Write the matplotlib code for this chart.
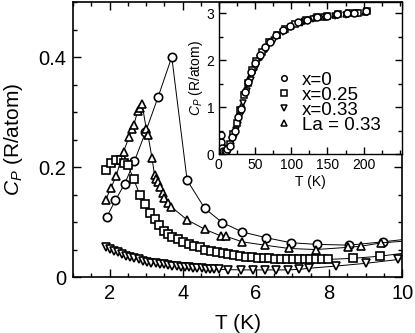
import numpy as np
import matplotlib
matplotlib.use("Agg")
import matplotlib.pyplot as plt
from matplotlib.ticker import MultipleLocator

plt.rcParams['font.family'] = ['Liberation Sans', 'DejaVu Sans']
plt.rcParams['mathtext.fontset'] = 'custom'
plt.rcParams['mathtext.rm'] = 'Liberation Sans'
plt.rcParams['mathtext.it'] = 'Liberation Sans:italic'

# main panel, low T (last point of each list is where the line ends, no marker)
T_x0 = [1.93, 2.16, 2.41, 2.68, 2.98, 3.33, 3.70, 4.12, 4.60, 5.08, 5.63, 6.28, 6.96, 7.67, 8.56, 9.47, 10.0]
C_x0 = [0.110, 0.140, 0.169, 0.211, 0.263, 0.328, 0.400, 0.176, 0.125, 0.099, 0.082, 0.0715, 0.0624, 0.0594, 0.058, 0.064, 0.068]

T_x25 = [1.89, 2.05, 2.18, 2.32, 2.38, 2.50, 2.66, 2.82, 2.96, 3.11, 3.23, 3.35, 3.48, 3.59, 3.71, 3.87,
         4.00, 4.16, 4.30, 4.46, 4.61, 4.77, 4.93, 5.09, 5.25, 5.41, 5.57, 5.73, 5.89, 6.05, 6.21, 6.37,
         6.53, 6.69, 6.85, 7.01, 7.17, 7.33, 7.49, 7.65, 7.81, 7.96, 8.65, 9.40, 10.0]
C_x25 = [0.195, 0.207, 0.212, 0.213, 0.207, 0.203, 0.178, 0.150, 0.132, 0.116, 0.105, 0.0945, 0.084, 0.078, 0.072, 0.0685,
         0.064, 0.060, 0.056, 0.054, 0.050, 0.048, 0.046, 0.044, 0.042, 0.040, 0.038, 0.037, 0.036, 0.035, 0.034, 0.034,
         0.033, 0.033, 0.033, 0.032, 0.032, 0.032, 0.032, 0.032, 0.032, 0.032, 0.034, 0.038, 0.043]

T_x33 = [1.89, 2.00, 2.11, 2.23, 2.34, 2.46, 2.57, 2.68, 2.80, 2.91, 3.03, 3.14, 3.26, 3.37, 3.48, 3.60,
         3.71, 3.83, 3.94, 4.06, 4.17, 4.29, 4.40, 4.52, 4.63, 4.75, 4.86, 5.00, 5.25, 5.60, 5.92, 6.24,
         6.55, 6.87, 7.19, 7.46, 8.19, 9.01, 9.90, 10.0]
C_x33 = [0.054, 0.051, 0.048, 0.045, 0.042, 0.039, 0.037, 0.034, 0.032, 0.030, 0.028, 0.026, 0.025, 0.024, 0.023, 0.022,
         0.021, 0.020, 0.019, 0.018, 0.0175, 0.017, 0.0165, 0.016, 0.0155, 0.015, 0.0145, 0.014, 0.0135, 0.013, 0.013, 0.013,
         0.013, 0.013, 0.014, 0.016, 0.020, 0.025, 0.032, 0.033]

T_la = [1.89, 2.03, 2.18, 2.38, 2.53, 2.62, 2.66, 2.77, 2.84, 2.89, 3.00, 3.05, 3.16, 3.23, 3.28, 3.33,
        3.37, 3.45, 3.50, 3.60, 3.68, 4.12, 4.60, 5.05, 5.17, 5.63, 6.24, 6.90, 7.64, 8.51, 8.87, 9.42, 10.0]
C_la = [0.140, 0.161, 0.184, 0.228, 0.254, 0.270, 0.276, 0.302, 0.307, 0.314, 0.270, 0.258, 0.216, 0.185, 0.178, 0.172,
        0.163, 0.152, 0.143, 0.135, 0.128, 0.104, 0.087, 0.0745, 0.0745, 0.064, 0.058, 0.052, 0.050, 0.054, 0.056, 0.062, 0.065]

# inset, full T range
Ti_x0 = [2, 3, 3.7, 4.6, 6, 8, 10, 12, 15, 18, 22, 27, 31, 36, 40, 45, 50, 57, 64, 71, 79, 89, 99, 110, 122, 136, 150, 163, 177, 187, 203]
Ci_x0 = [0.13, 0.26, 0.40, 0.13, 0.07, 0.06, 0.07, 0.10, 0.18, 0.36, 0.50, 0.79, 0.97, 1.32, 1.54, 1.75, 1.93, 2.11, 2.29, 2.39,
         2.54, 2.64, 2.73, 2.81, 2.86, 2.92, 2.95, 2.99, 3.00, 3.00, 3.04]
Ti_x25 = [2, 5, 10, 16, 20, 25, 30, 35, 40, 46, 52, 60, 70, 80, 92, 105, 120, 135, 150, 165, 180, 192, 204]
Ci_x25 = [0.20, 0.12, 0.04, 0.22, 0.42, 0.67, 0.93, 1.26, 1.52, 1.78, 1.98, 2.18, 2.38, 2.54, 2.67, 2.77, 2.85, 2.91, 2.95,
          2.98, 3.00, 3.01, 3.05]
Ti_x33 = [2, 5, 10, 14, 19, 24, 29, 34, 39, 44, 50, 57, 66, 76, 88, 100, 115, 130, 145, 160, 175, 190, 203]
Ci_x33 = [0.05, 0.015, 0.02, 0.10, 0.30, 0.52, 0.80, 1.08, 1.35, 1.58, 1.82, 2.04, 2.25, 2.44, 2.60, 2.70, 2.80, 2.87, 2.92,
          2.95, 2.97, 3.00, 3.02]
Ti_la = [2, 3, 6, 10, 17, 21, 26, 32, 37, 42, 48, 55, 62, 70, 80, 90, 100, 115, 130, 145, 160, 175, 190, 202]
Ci_la = [0.14, 0.27, 0.07, 0.05, 0.28, 0.45, 0.72, 1.05, 1.38, 1.62, 1.85, 2.06, 2.24, 2.38, 2.54, 2.65, 2.73, 2.83, 2.89,
         2.93, 2.97, 2.99, 3.00, 3.03]

labels = ['x=0', 'x=0.25', 'x=0.33', 'La = 0.33']
main_yticks = [0, 0.2, 0.4]
main_yticklabels = ['0', '0.2', '0.4']

fig = plt.figure(figsize=(4.15, 3.33), dpi=100)
ax = fig.add_axes([0.176, 0.168, 0.793, 0.826])

series = [(T_x0, C_x0, 'o', 6.0), (T_x25, C_x25, 's', 5.3), (T_x33, C_x33, 'v', 6.0), (T_la, C_la, '^', 6.0)]
for T, C, m, ms in series:
    ax.plot(T, C, color='black', lw=0.7, marker=m, ms=ms, mfc='white', mec='black', mew=1.2,
            markevery=slice(0, len(T) - 1))

ax.set_xlim(1, 10)
ax.set_ylim(0, 0.5)
ax.xaxis.set_major_locator(MultipleLocator(2))
ax.xaxis.set_minor_locator(MultipleLocator(0.5))
ax.set_yticks(main_yticks)
ax.set_yticklabels(main_yticklabels)
ax.yaxis.set_minor_locator(MultipleLocator(0.05))
ax.tick_params(which='both', direction='in', top=True, right=True, labelsize=14.5, width=1)
ax.tick_params(which='major', length=6, pad=5)
ax.tick_params(which='minor', length=3)
for s in ax.spines.values():
    s.set_linewidth(1.2)
ax.set_xlabel('T (K)', fontsize=15, labelpad=8)
ax.set_ylabel('$C_P$ (R/atom)', fontsize=15, labelpad=9.5)

# inset
axi = fig.add_axes([0.527, 0.5375, 0.442, 0.4565])
inset_series = [(Ti_la, Ci_la, '^', labels[3]), (Ti_x33, Ci_x33, 'v', labels[2]),
                (Ti_x25, Ci_x25, 's', labels[1]), (Ti_x0, Ci_x0, 'o', labels[0])]
handles = {}
for T, C, m, lab in inset_series:
    h, = axi.plot(T, C, ls='none', marker=m, ms=5, mfc='white', mec='black', mew=1.1, label=lab)
    handles[lab] = h
axi.set_xlim(0, 253)
axi.set_ylim(0, 3.24)
axi.set_xticks([0, 50, 100, 150, 200])
axi.xaxis.set_minor_locator(MultipleLocator(25))
axi.yaxis.set_major_locator(MultipleLocator(1))
axi.yaxis.set_minor_locator(MultipleLocator(0.5))
axi.tick_params(which='both', direction='in', top=True, right=True, labelsize=10, width=1)
axi.tick_params(which='major', length=5, pad=3)
axi.tick_params(which='minor', length=3)
for s in axi.spines.values():
    s.set_linewidth(1.0)
axi.set_xlabel('T (K)', fontsize=10, labelpad=2)
axi.set_ylabel('$C_P$ (R/atom)', fontsize=10, labelpad=1)

leg = axi.legend([handles[l] for l in labels], labels, loc='upper left', bbox_to_anchor=(0.31, 0.54),
                 frameon=False, fontsize=13.5, handlelength=0.9, handletextpad=0.5, labelspacing=-0.12,
                 borderpad=0, borderaxespad=0, markerscale=0.8)

fig.savefig('out.png', dpi=100)
